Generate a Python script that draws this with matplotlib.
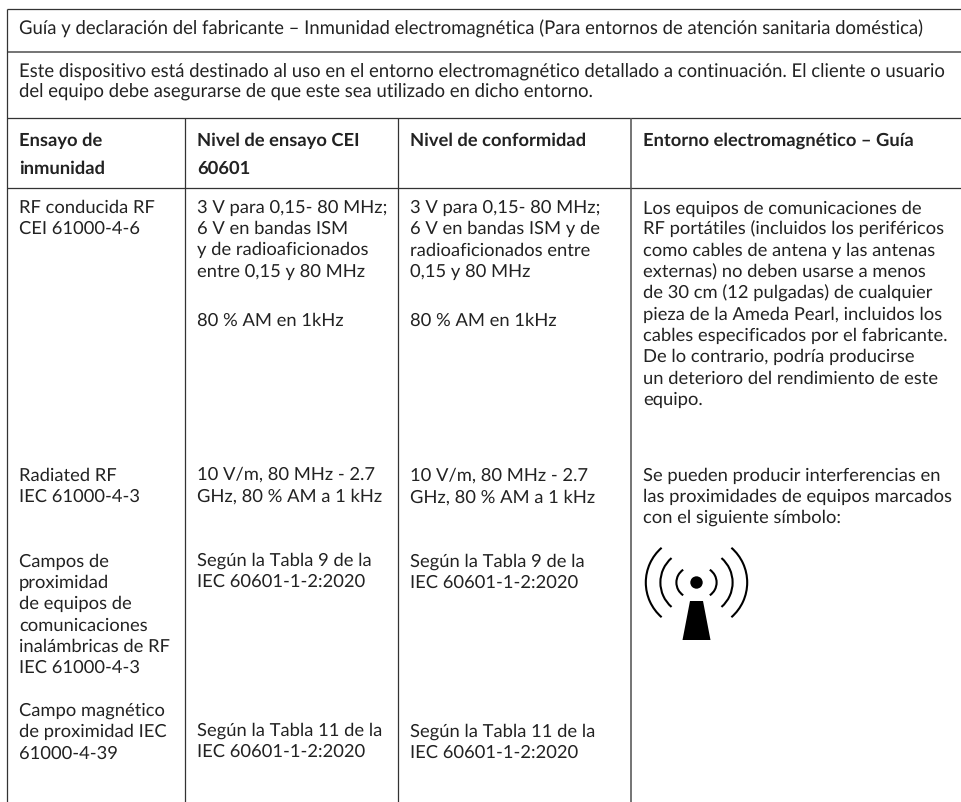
import matplotlib
matplotlib.use("Agg")
import matplotlib.pyplot as plt
from matplotlib.patches import Polygon, Circle, Arc

title = "Guía y declaración del fabricante – Inmunidad electromagnética (Para entornos de atención sanitaria doméstica)"
intro = ["Este dispositivo está destinado al uso en el entorno electromagnético detallado a continuación. El cliente o usuario",
         "del equipo debe asegurarse de que este sea utilizado en dicho entorno."]
headers = [["Ensayo de", "inmunidad"], ["Nivel de ensayo CEI", "60601"],
           ["Nivel de conformidad"], ["Entorno electromagnético – Guía"]]
col1 = [(213, ["RF conducida RF", "CEI 61000-4-6"]),
        (481, ["Radiated RF", "IEC 61000-4-3"]),
        (567, ["Campos de", "proximidad", "de equipos de", "comunicaciones", "inalámbricas de RF", "IEC 61000-4-3"]),
        (716, ["Campo magnético", "de proximidad IEC", "61000-4-39"])]
col2 = [(213, ["3 V para 0,15- 80 MHz;", "6 V en bandas ISM", "y de radioaficionados", "entre 0,15 y 80 MHz"]),
        (326, ["80 % AM en 1kHz"]),
        (480, ["10 V/m, 80 MHz - 2.7", "GHz, 80 % AM a 1 kHz"]),
        (566, ["Según la Tabla 9 de la", "IEC 60601-1-2:2020"]),
        (736, ["Según la Tabla 11 de la", "IEC 60601-1-2:2020"])]
col3 = [(213, ["3 V para 0,15- 80 MHz;", "6 V en bandas ISM y de", "radioaficionados entre", "0,15 y 80 MHz"]),
        (326, ["80 % AM en 1kHz"]),
        (481, ["10 V/m, 80 MHz - 2.7", "GHz, 80 % AM a 1 kHz"]),
        (566.5, ["Según la Tabla 9 de la", "IEC 60601-1-2:2020"]),
        (737, ["Según la Tabla 11 de la", "IEC 60601-1-2:2020"])]
col4 = [(214, ["Los equipos de comunicaciones de", "RF portátiles (incluidos los periféricos",
               "como cables de antena y las antenas", "externas) no deben usarse a menos",
               "de 30 cm (12 pulgadas) de cualquier", "pieza de la Ameda Pearl, incluidos los",
               "cables especificados por el fabricante.", "De lo contrario, podría producirse",
               "un deterioro del rendimiento de este", "equipo."]),
        (480.5, ["Se pueden producir interferencias en", "las proximidades de equipos marcados",
               "con el siguiente símbolo:"])]
columns = [(19, col1), (197, col2), (410, col3), (643, col4)]

plt.rcParams['font.family'] = ['Lato', 'DejaVu Sans']
plt.rcParams['text.hinting'] = 'no_hinting'
plt.rcParams['text.hinting_factor'] = 8
W, H = 962, 802
fig = plt.figure(figsize=(W / 100, H / 100), dpi=100)
ax = fig.add_axes([0, 0, 1, 1])
ax.set_xlim(0, W)
ax.set_ylim(H, 0)
ax.axis('off')

LC, DC, LW, FS, FSB, LH = '#555555', '#333333', 1.15, 13.25, 13.2, 21.2
TC = '#222222'

def block(x, y, lines, weight='normal', lh=LH, fs=FS):
    for i, s in enumerate(lines):
        ax.text(x, y + i * lh, s, fontsize=fs, color=TC, weight=weight, va='baseline', ha='left')

# rules: the table is open on its right side and runs off the page
for y, c, w in [(9, DC, 0.9), (51.5, LC, LW), (118, DC, 0.9), (187.5, DC, 0.9)]:
    ax.plot([7, W], [y, y], color=c, lw=w, solid_capstyle='butt')
for x, y0, c, w in [(7, 9, DC, 0.9), (185.5, 118, DC, 0.9), (398.5, 118, DC, 0.9), (631, 118, LC, LW)]:
    ax.plot([x, x], [y0, H], color=c, lw=w, solid_capstyle='butt')

block(19, 34.5, [title], fs=13.35)
block(19, 76.5, intro, lh=20.5, fs=13.35)
for x, h in zip((19, 197, 410, 643), headers):
    block(x, 145.5, h, weight='bold', lh=28, fs=FSB)
for x, col in columns:
    for y, lines in col:
        block(x, y, lines)

# RF symbol
cx, cy = 696.5, 582.5
for R, off, th in [(46, 4.7, 49), (32.4, 3.7, 49), (15.4, 4.7, 56)]:
    for sgn, c in ((-1, 180), (1, 0)):
        ax.add_patch(Arc((cx + sgn * off, cy), 2 * R, 2 * R,
                         theta1=c - th, theta2=c + th, color='black', lw=1.5))
ax.add_patch(Circle((cx, cy), 6.2, color='black', lw=0))
ax.add_patch(Polygon([(690, 601), (703, 601), (710.5, 640), (682.5, 640)], closed=True, color='black', lw=0))

fig.savefig('out.png', dpi=100)
